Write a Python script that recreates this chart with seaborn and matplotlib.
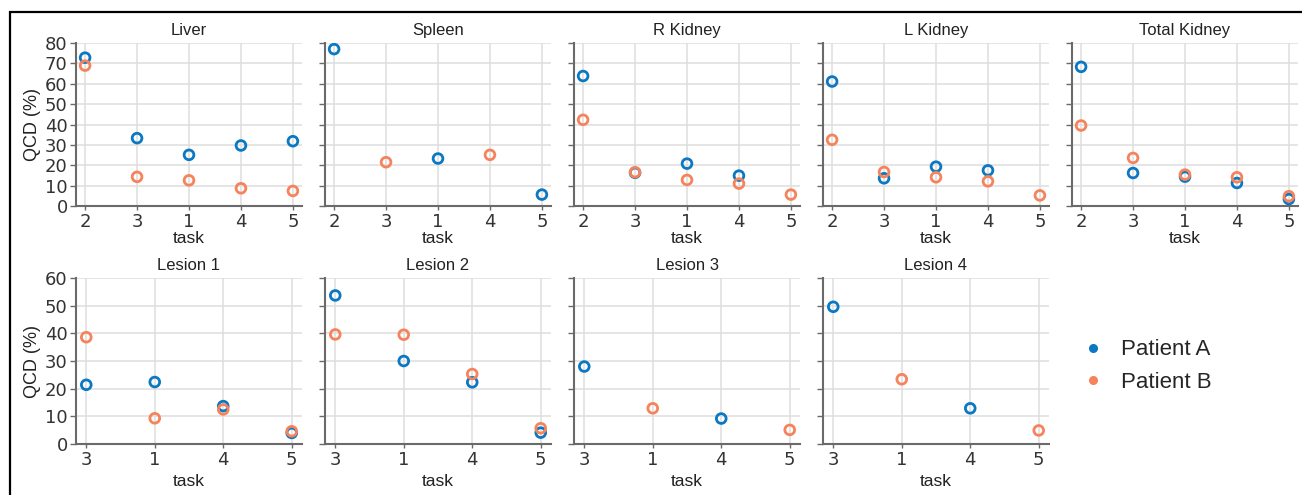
import numpy as np
import pandas as pd
import matplotlib
matplotlib.use("Agg")
import matplotlib.pyplot as plt
import seaborn as sns
from matplotlib.lines import Line2D
from matplotlib.patches import Rectangle

nan = np.nan

# ---------------- data ----------------
top_tasks = ['2', '3', '1', '4', '5']
bottom_tasks = ['3', '1', '4', '5']
patients = ['Patient A', 'Patient B']

liver_a = [72.8, 33.3, 25.1, 29.7, 31.8]
liver_b = [68.9, 14.3, 12.6, 8.7, 7.4]
spleen_a = [77.0, nan, 23.3, nan, 5.6]
spleen_b = [nan, 21.5, nan, 25.1, nan]
rkidney_a = [63.8, 16.3, 20.8, 14.9, nan]
rkidney_b = [42.3, 16.6, 12.8, 11.0, 5.6]
lkidney_a = [61.1, 13.6, 19.3, 17.5, nan]
lkidney_b = [32.5, 16.7, 14.1, 12.1, 5.2]
tkidney_a = [68.3, 16.2, 14.4, 11.3, 3.4]
tkidney_b = [39.5, 23.6, 15.4, 14.1, 4.8]

lesion1_a = [21.4, 22.4, 13.7, 4.0]
lesion1_b = [38.6, 9.3, 12.5, 4.6]
lesion2_a = [53.7, 30.0, 22.3, 4.1]
lesion2_b = [39.6, 39.5, 25.3, 5.7]
lesion3_a = [28.0, nan, 9.2, nan]
lesion3_b = [nan, 12.9, nan, 5.1]
lesion4_a = [49.6, nan, 12.9, nan]
lesion4_b = [nan, 23.4, nan, 4.9]

top_panels = [("Liver", liver_a, liver_b),
              ("Spleen", spleen_a, spleen_b),
              ("R Kidney", rkidney_a, rkidney_b),
              ("L Kidney", lkidney_a, lkidney_b),
              ("Total Kidney", tkidney_a, tkidney_b)]
bottom_panels = [("Lesion 1", lesion1_a, lesion1_b),
                 ("Lesion 2", lesion2_a, lesion2_b),
                 ("Lesion 3", lesion3_a, lesion3_b),
                 ("Lesion 4", lesion4_a, lesion4_b)]

# ---------------- style ----------------
sns.set_theme(style="whitegrid")
plt.rcParams['font.family'] = ['DejaVu Sans']
BLUE = "#0a78c2"
ORANGE = "#f5835c"
palette = {"Patient A": BLUE, "Patient B": ORANGE}
LABEL_FONT = ['Liberation Sans', 'DejaVu Sans']
SPINE = "#6a6a6a"
GRID = "#dedede"

W, H = 1302, 495
fig = plt.figure(figsize=(W / 100, H / 100), dpi=100)


def make_df(tasks, a, b):
    rows = []
    for p, vals in zip(patients, (a, b)):
        for t, v in zip(tasks, vals):
            rows.append({"task": t, "qcd": v, "patient": p})
    return pd.DataFrame(rows).dropna()


def draw(ax, title, tasks, a, b, ymax, first, bottom_row):
    df = make_df(tasks, a, b)
    sns.stripplot(data=df, x="task", y="qcd", hue="patient", order=tasks,
                  hue_order=patients, palette=palette, jitter=False,
                  dodge=False, size=7, linewidth=0, ax=ax, legend=False)
    for coll in ax.collections:
        fc = coll.get_facecolors()
        coll.set_edgecolors(fc)
        coll.set_facecolors("none")
        coll.set_linewidths(2.0)
        coll.set_zorder(3)
    n = len(tasks)
    m = 0.175 if n == 5 else 0.15
    ax.set_xlim(-m, n - 1 + m)
    ax.set_ylim(0, ymax)
    ax.set_yticks(np.arange(0, ymax + 1, 10))
    ax.grid(True, axis="both", color=GRID, linewidth=1.1)
    ax.set_axisbelow(True)
    for s in ["top", "right"]:
        ax.spines[s].set_visible(False)
    for s in ["left", "bottom"]:
        ax.spines[s].set_color(SPINE)
        ax.spines[s].set_linewidth(1.5)
    ax.tick_params(axis="y", left=True, length=4, width=1, color=SPINE,
                   labelsize=13, labelcolor="#333333", pad=2)
    ax.tick_params(axis="x", bottom=True, length=3, width=1, color=SPINE,
                   labelsize=13, labelcolor="#333333", pad=2)
    if not first:
        ax.set_yticklabels([])
        ax.set_ylabel("")
    else:
        ax.set_ylabel("QCD (%)", fontsize=13, family=LABEL_FONT,
                      color="#222222", labelpad=3)
    ax.set_xlabel("task", fontsize=12.5, family=LABEL_FONT, color="#222222",
                  labelpad=4 if bottom_row else 0)
    ax.set_title(title, fontsize=12, family=LABEL_FONT, color="#222222", pad=6)


lefts = [76, 325, 574, 823, 1072]
aw = 226
# top row: y from 43 to 206 px
for i, (title, a, b) in enumerate(top_panels):
    ax = fig.add_axes([lefts[i] / W, 1 - 206 / H, aw / W, 163 / H])
    draw(ax, title, top_tasks, a, b, 80, i == 0, False)

# bottom row: y from 278 to 444 px
for i, (title, a, b) in enumerate(bottom_panels):
    ax = fig.add_axes([lefts[i] / W, 1 - 444 / H, aw / W, 166 / H])
    draw(ax, title, bottom_tasks, a, b, 60, i == 0, True)

# legend
handles = [Line2D([], [], marker="o", linestyle="none", markersize=5.5,
                  markerfacecolor=palette[p], markeredgecolor=palette[p], label=p)
           for p in patients]
fig.legend(handles=handles, loc="center left",
           bbox_to_anchor=(1062 / W, 1 - 366 / H), frameon=False,
           prop={"family": LABEL_FONT, "size": 16}, handlelength=1.0,
           handletextpad=0.75, labelspacing=0.5)

# outer frame
fig.patches.append(Rectangle((10 / W, -0.2), 1.2, 1.2 - 12 / H + 0.0,
                             transform=fig.transFigure, fill=False,
                             edgecolor="black", linewidth=1.6, zorder=10))

fig.savefig("out.png", dpi=100)
